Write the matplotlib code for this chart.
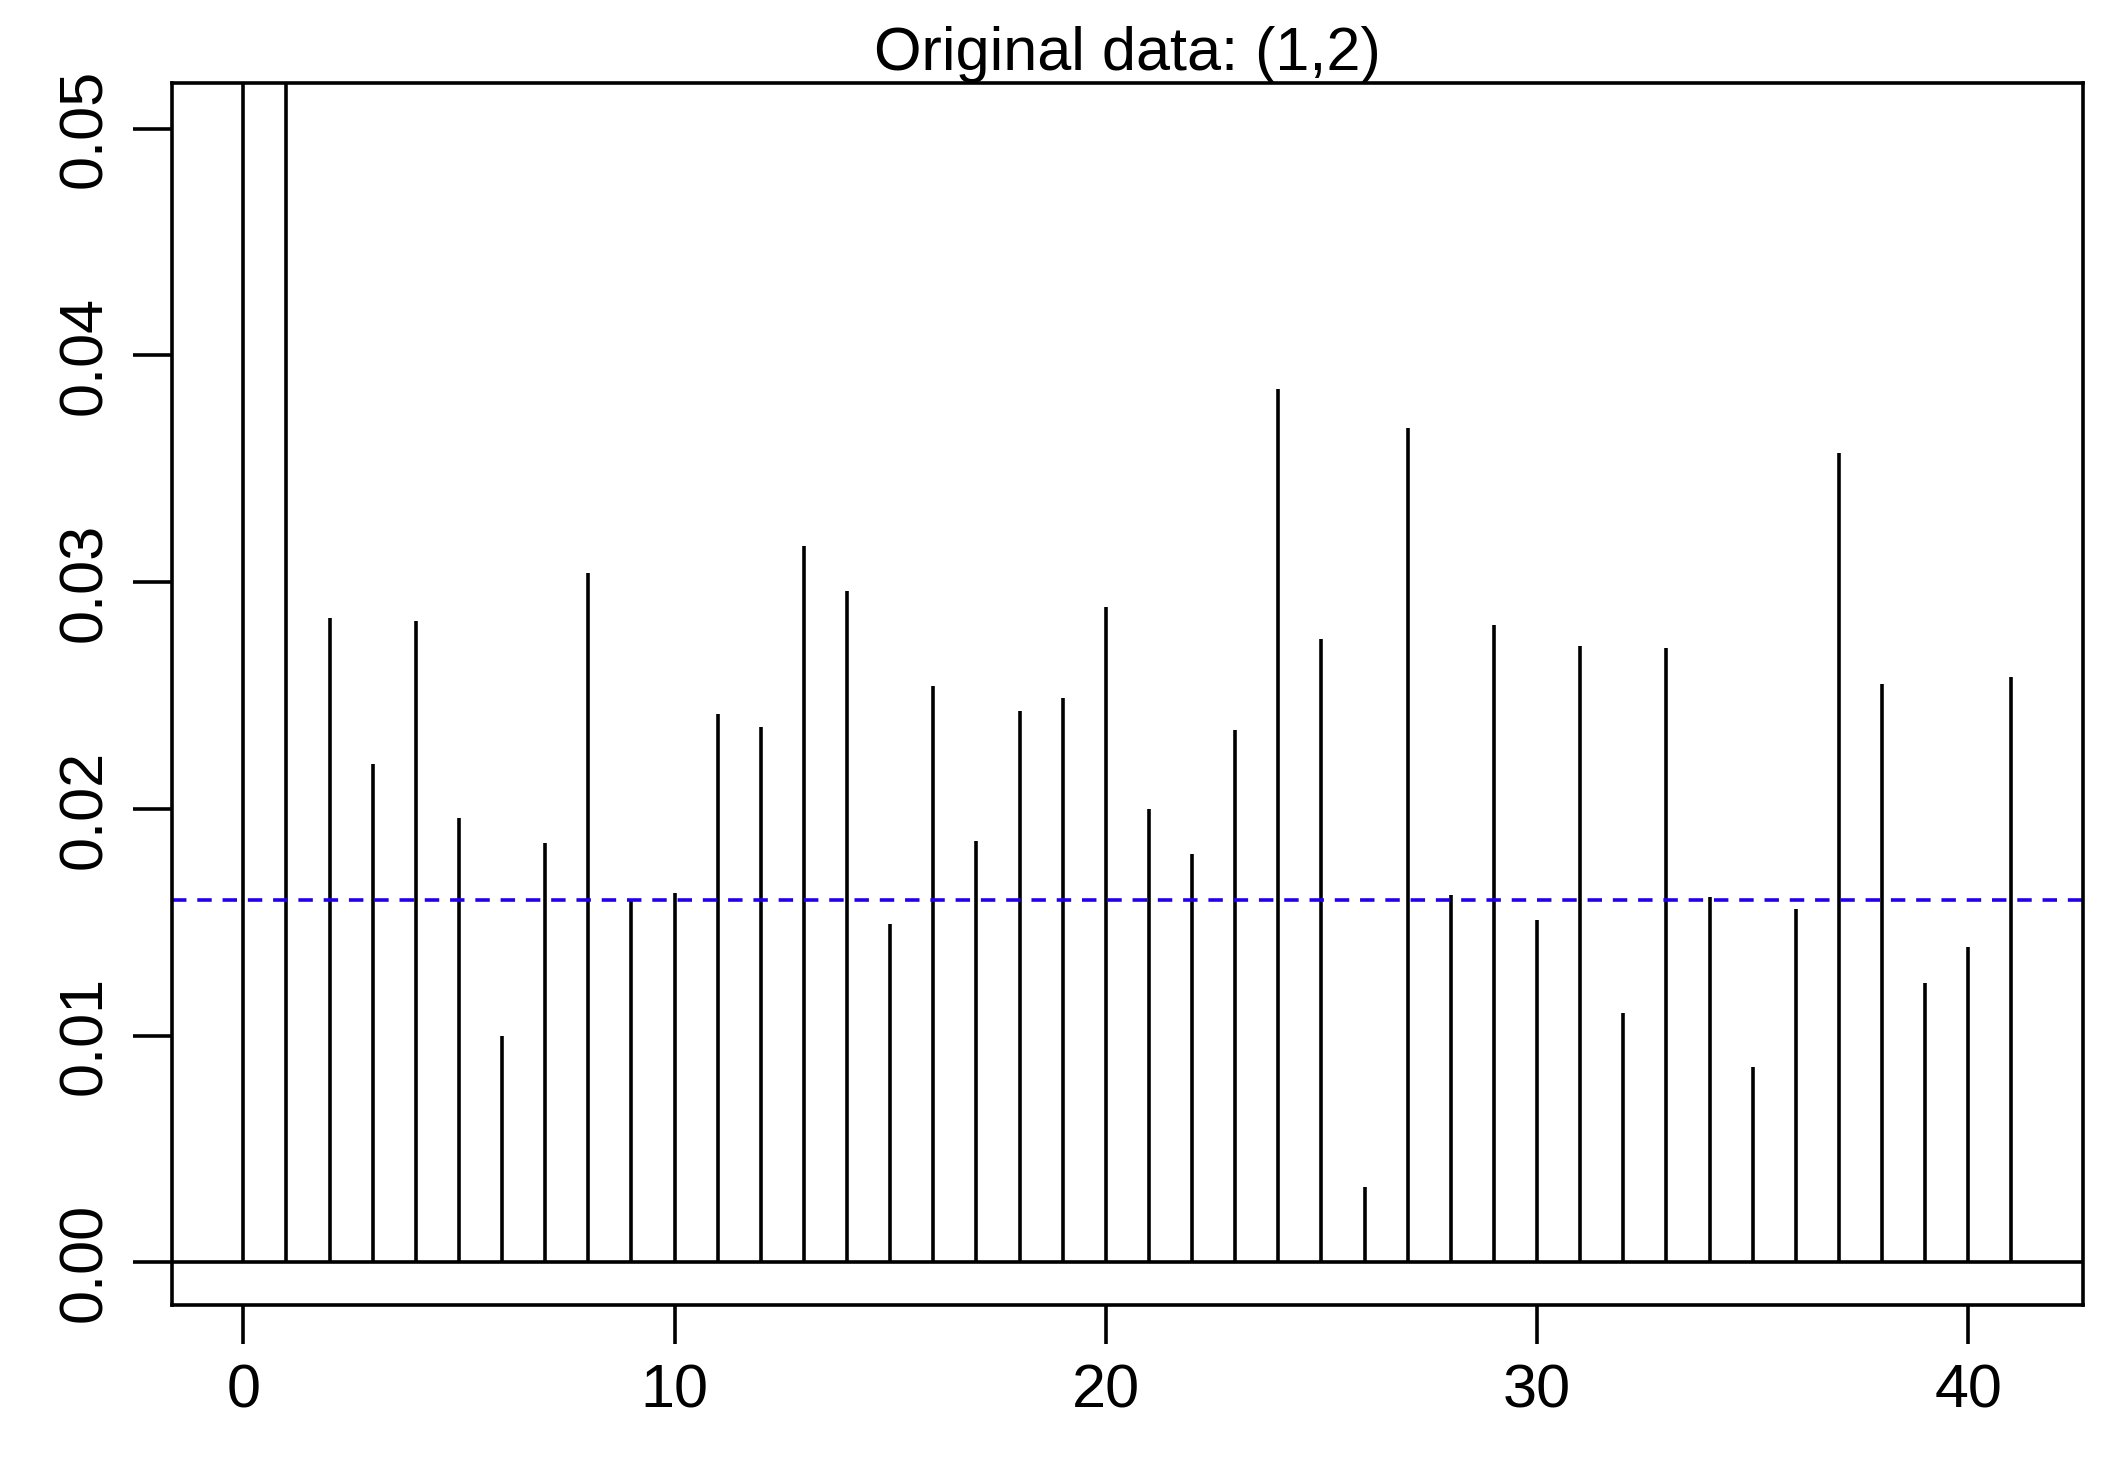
import matplotlib
matplotlib.use('Agg')
import matplotlib.pyplot as plt

plt.rcParams['font.family'] = ['Liberation Sans', 'DejaVu Sans']

lags = list(range(42))
acf = [1.0, 1.0, 0.0284, 0.0220, 0.0283, 0.0196, 0.0100, 0.0185, 0.0304, 0.0160,
       0.0163, 0.0242, 0.0236, 0.0316, 0.0296, 0.0149, 0.0254, 0.0186, 0.0243, 0.0249,
       0.0289, 0.0200, 0.0180, 0.0235, 0.0385, 0.0275, 0.0033, 0.0368, 0.0162, 0.0281,
       0.0151, 0.0272, 0.0110, 0.0271, 0.0161, 0.0086, 0.0156, 0.0357, 0.0255, 0.0123,
       0.0139, 0.0258]
conf = 0.0160

fig = plt.figure(figsize=(21.1, 14.79), dpi=100)
ax = fig.add_axes([0.0816, 0.1174, 0.9054, 0.8262])
ax.vlines(lags, 0, acf, color='black', linewidth=2.6)
ax.axhline(0, color='black', linewidth=2.6)
ax.axhline(conf, color='#2200ee', linewidth=2.6, linestyle=(0, (4, 3)))
ax.set_xlim(-1.65, 42.65)
ax.set_ylim(-0.0019, 0.052)
ax.set_xticks([0, 10, 20, 30, 40])
ax.set_yticks([0, 0.01, 0.02, 0.03, 0.04, 0.05])
ax.set_yticklabels(['0.00', '0.01', '0.02', '0.03', '0.04', '0.05'], rotation=90, va='center')
ax.tick_params(labelsize=44, length=28, width=2.6, pad=14)
for s in ax.spines.values():
    s.set_linewidth(2.6)
ax.set_title('Original data: (1,2)', fontsize=44, pad=6)
fig.savefig('out.png')
